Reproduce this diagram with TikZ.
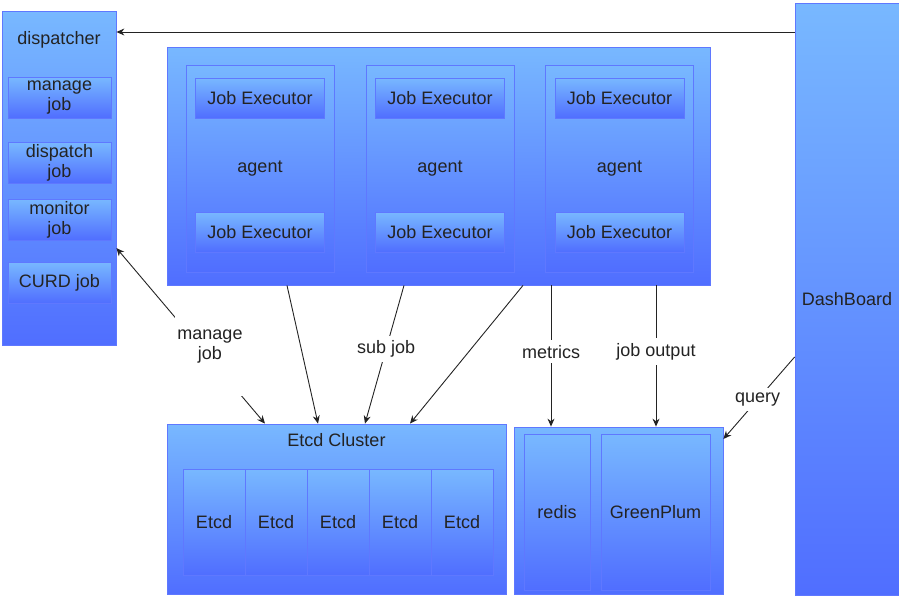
\documentclass[tikz,border=0pt]{standalone}
\usepackage{fontspec}
\setmainfont{Liberation Sans}
\usetikzlibrary{arrows.meta}
\definecolor{topblue}{RGB}{120,184,255}
\definecolor{botblue}{RGB}{80,110,255}
\definecolor{edgeblue}{RGB}{95,120,255}
\definecolor{inkgray}{RGB}{35,35,35}
\begin{document}
\begin{tikzpicture}[x=1pt,y=-1pt,font=\fontsize{18}{20}\selectfont,
  box/.style={draw=edgeblue,line width=0.8pt,top color=topblue,bottom color=botblue,inner sep=0pt,align=center,text=inkgray},
  txt/.style={inner sep=0pt,align=center,text=inkgray},
  link/.style={draw=inkgray,line width=0.9pt,-{Stealth[length=8pt,width=7pt]}},
  cut/.style={fill=white,inner sep=5pt,align=center,text=inkgray}]
\useasboundingbox (0,0) rectangle (899,595);

% dispatcher
\node[box,minimum width=114pt,minimum height=334pt] (disp) at (59,178) {};
\node[txt] (dlabel) at (59,40) {dispatcher};
\node[box,minimum width=103pt,minimum height=41pt] (mjob) at (59.5,97.5) {manage\\job};
\node[box,minimum width=103pt,minimum height=41pt] (djob) at (59.5,162.5) {dispatch\\job};
\node[box,minimum width=103pt,minimum height=41pt] (mojob) at (59.5,219.5) {monitor\\job};
\node[box,minimum width=103pt,minimum height=41pt] (cjob) at (59.5,282.5) {CURD job};

% agents
\node[box,minimum width=543pt,minimum height=238pt] (agents) at (438.5,166) {};
\foreach \x/\n in {260/1,440/2,619.5/3}{
  \node[box,minimum width=148pt,minimum height=207pt] (agent\n) at (\x,168.5) {agent};
  \node[box,minimum width=129pt,minimum height=40pt] (jeup\n) at (\x,98) {Job Executor};
  \node[box,minimum width=129pt,minimum height=40pt] (jelow\n) at (\x,232) {Job Executor};
}

% etcd cluster
\node[box,minimum width=339pt,minimum height=170pt] (etcd) at (336.5,509) {};
\node[txt] (etitle) at (336.5,440) {Etcd Cluster};
\foreach \i in {0,...,4}
  \node[box,minimum width=62pt,minimum height=106pt] (etcd\i) at (214+62*\i,522) {Etcd};

% storage
\node[box,minimum width=209pt,minimum height=167pt] (store) at (618.5,510.5) {};
\node[box,minimum width=66pt,minimum height=156pt] (redis) at (557,512) {redis};
\node[box,minimum width=109pt,minimum height=156pt] (gp) at (655.5,512) {GreenPlum};

% dashboard
\node[box,minimum width=104pt,minimum height=592pt] (dash) at (847,299) {DashBoard};

% connectors
\draw[link] (dash.west |- 0,32) -- (disp.east |- 0,32);
\draw[link,{Stealth[length=8pt,width=7pt]}-{Stealth[length=8pt,width=7pt]}] (disp.east |- 0,248) -- (etcd.north -| 265,0);
\node[cut,inner sep=0pt,minimum width=70pt,minimum height=98pt] (mlabel) at (210,347) {manage\\job};
\draw[link] (agents.south -| 287,0) -- (etcd.north -| 318,0);
\draw[link] (agents.south -| 404,0) -- (etcd.north -| 365,0) node[cut,pos=0.46] {sub job};
\draw[link] (agents.south -| 523,0) -- (etcd.north -| 410,0);
\draw[link] (agents.south -| 551,0) -- (store.north -| 551,0) node[cut,pos=0.47] {metrics};
\draw[link] (agents.south -| 656,0) -- (store.north -| 656,0) node[cut,pos=0.47] {job output};
\draw[link] (dash.west |- 0,357) -- (store.east |- 0,439) node[cut,pos=0.52] {query};
\end{tikzpicture}
\end{document}
